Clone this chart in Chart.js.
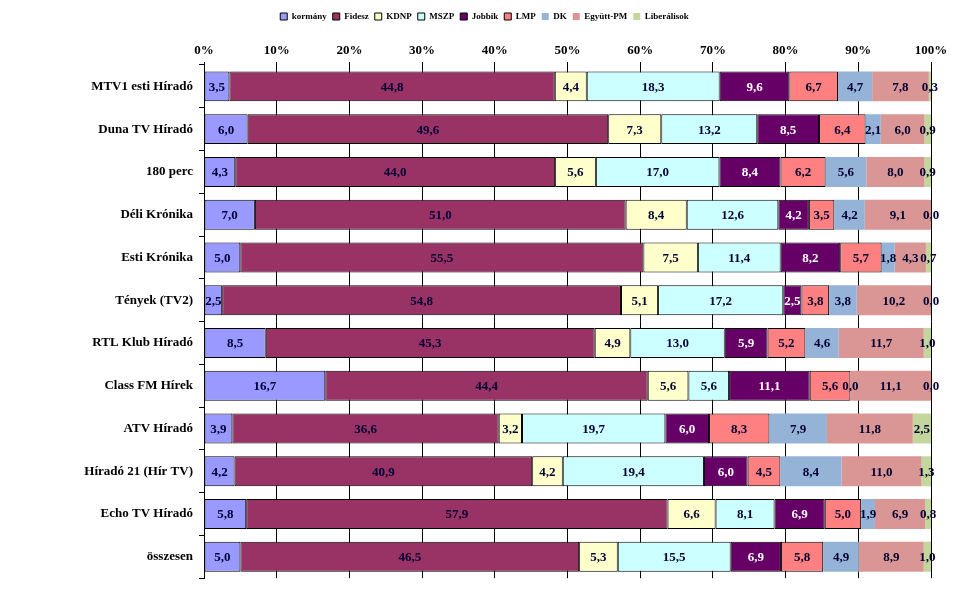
<!DOCTYPE html>
<html>
<head>
<meta charset="utf-8">
<script src="https://cdn.jsdelivr.net/npm/chart.js@4"></script>
<style>
  html, body { margin: 0; padding: 0; background: #fff; }
  #wrap { width: 969px; height: 592px; }
</style>
</head>
<body>
<div id="wrap"><canvas id="chart"></canvas></div>
<script>
// musorok
const categories = ['MTV1 esti Híradó', 'Duna TV Híradó', '180 perc', 'Déli Krónika', 'Esti Krónika', 'Tények (TV2)',
    'RTL Klub Híradó', 'Class FM Hírek', 'ATV Híradó', 'Híradó 21 (Hír TV)', 'Echo TV Híradó', 'összesen'];

// partok szerinti megoszlas (%)
const kormany     = [3.5, 6.0, 4.3, 7.0, 5.0, 2.5, 8.5, 16.7, 3.9, 4.2, 5.8, 5.0];
const fidesz      = [44.8, 49.6, 44.0, 51.0, 55.5, 54.8, 45.3, 44.4, 36.6, 40.9, 57.9, 46.5];
const kdnp        = [4.4, 7.3, 5.6, 8.4, 7.5, 5.1, 4.9, 5.6, 3.2, 4.2, 6.6, 5.3];
const mszp        = [18.3, 13.2, 17.0, 12.6, 11.4, 17.2, 13.0, 5.6, 19.7, 19.4, 8.1, 15.5];
const jobbik      = [9.6, 8.5, 8.4, 4.2, 8.2, 2.5, 5.9, 11.1, 6.0, 6.0, 6.9, 6.9];
const lmp         = [6.7, 6.4, 6.2, 3.5, 5.7, 3.8, 5.2, 5.6, 8.3, 4.5, 5.0, 5.8];
const dk          = [4.7, 2.1, 5.6, 4.2, 1.8, 3.8, 4.6, 0.0, 7.9, 8.4, 1.9, 4.9];
const egyuttPM    = [7.8, 6.0, 8.0, 9.1, 4.3, 10.2, 11.7, 11.1, 11.8, 11.0, 6.9, 8.9];
const liberalisok = [0.3, 0.9, 0.9, 0.0, 0.7, 0.0, 1.0, 0.0, 2.5, 1.3, 0.8, 1.0];

const seriesNames = ['kormány', 'Fidesz', 'KDNP', 'MSZP', 'Jobbik', 'LMP', 'DK', 'Együtt-PM', 'Liberálisok'];
const series = [kormany, fidesz, kdnp, mszp, jobbik, lmp, dk, egyuttPM, liberalisok];
const colors = ['#9999ff', '#993366', '#ffffcc', '#ccffff', '#660066', '#ff8080', '#95b3d7', '#d99694', '#c3d69b'];
const bordered = [true, true, true, true, true, true, false, false, false];

const FONT = "'Liberation Serif', 'Times New Roman', serif";

// 100%-ra normalizalt sorok (mint az Excel 100%-os halmozott savja)
const rowSums = categories.map((c, i) => series.reduce((s, arr) => s + arr[i], 0));

const datasets = series.map((arr, k) => ({
    label: seriesNames[k],
    raw: arr,
    data: arr.map((v, i) => v / rowSums[i] * 100),
    backgroundColor: colors[k],
    borderColor: '#000',
    borderWidth: bordered[k] ? 1 : 0,
    borderSkipped: false,
    barPercentage: 0.7,
    categoryPercentage: 1
}));

// ertekek kiirasa a savokra
const valueLabels = {
    id: 'valueLabels',
    afterDatasetsDraw(chart) {
        const ctx = chart.ctx;
        ctx.save();
        ctx.font = 'bold 13px ' + FONT;
        ctx.textAlign = 'center';
        ctx.textBaseline = 'middle';
        chart.data.datasets.forEach((ds, k) => {
            const meta = chart.getDatasetMeta(k);
            meta.data.forEach((el, i) => {
                const x = (el.x + el.base) / 2;
                ctx.fillStyle = k === 4 ? '#ffffff' : '#000033';
                ctx.fillText(ds.raw[i].toFixed(1).replace('.', ','), x, el.y + 1);
            });
        });
        ctx.restore();
    }
};

new Chart(document.getElementById('chart'), {
    type: 'bar',
    data: { labels: categories, datasets: datasets },
    options: {
        indexAxis: 'y',
        responsive: true,
        maintainAspectRatio: false,
        animation: false,
        layout: { padding: { top: 6, right: 38, bottom: 9, left: 38 } },
        plugins: {
            legend: {
                position: 'top',
                labels: {
                    font: { family: FONT, size: 9, weight: 'bold' },
                    color: '#000',
                    boxWidth: 7,
                    boxHeight: 7,
                    padding: 6
                }
            },
            tooltip: { enabled: false }
        },
        scales: {
            x: {
                position: 'top',
                stacked: true,
                min: 0,
                max: 100,
                ticks: {
                    stepSize: 10,
                    callback: v => v + '%',
                    font: { family: FONT, size: 13, weight: 'bold' },
                    color: '#000',
                    padding: 4
                },
                grid: { color: '#000', tickLength: 3 },
                border: { display: false },
                afterFit(scale) { scale.height = 34; }
            },
            y: {
                stacked: true,
                ticks: {
                    font: { family: FONT, size: 13, weight: 'bold' },
                    color: '#000',
                    padding: 6
                },
                grid: { drawOnChartArea: false, color: '#000', tickLength: 5 },
                border: { display: true, color: '#000' },
                afterFit(scale) { scale.width = 166; }
            }
        }
    },
    plugins: [valueLabels]
});
</script>
</body>
</html>
